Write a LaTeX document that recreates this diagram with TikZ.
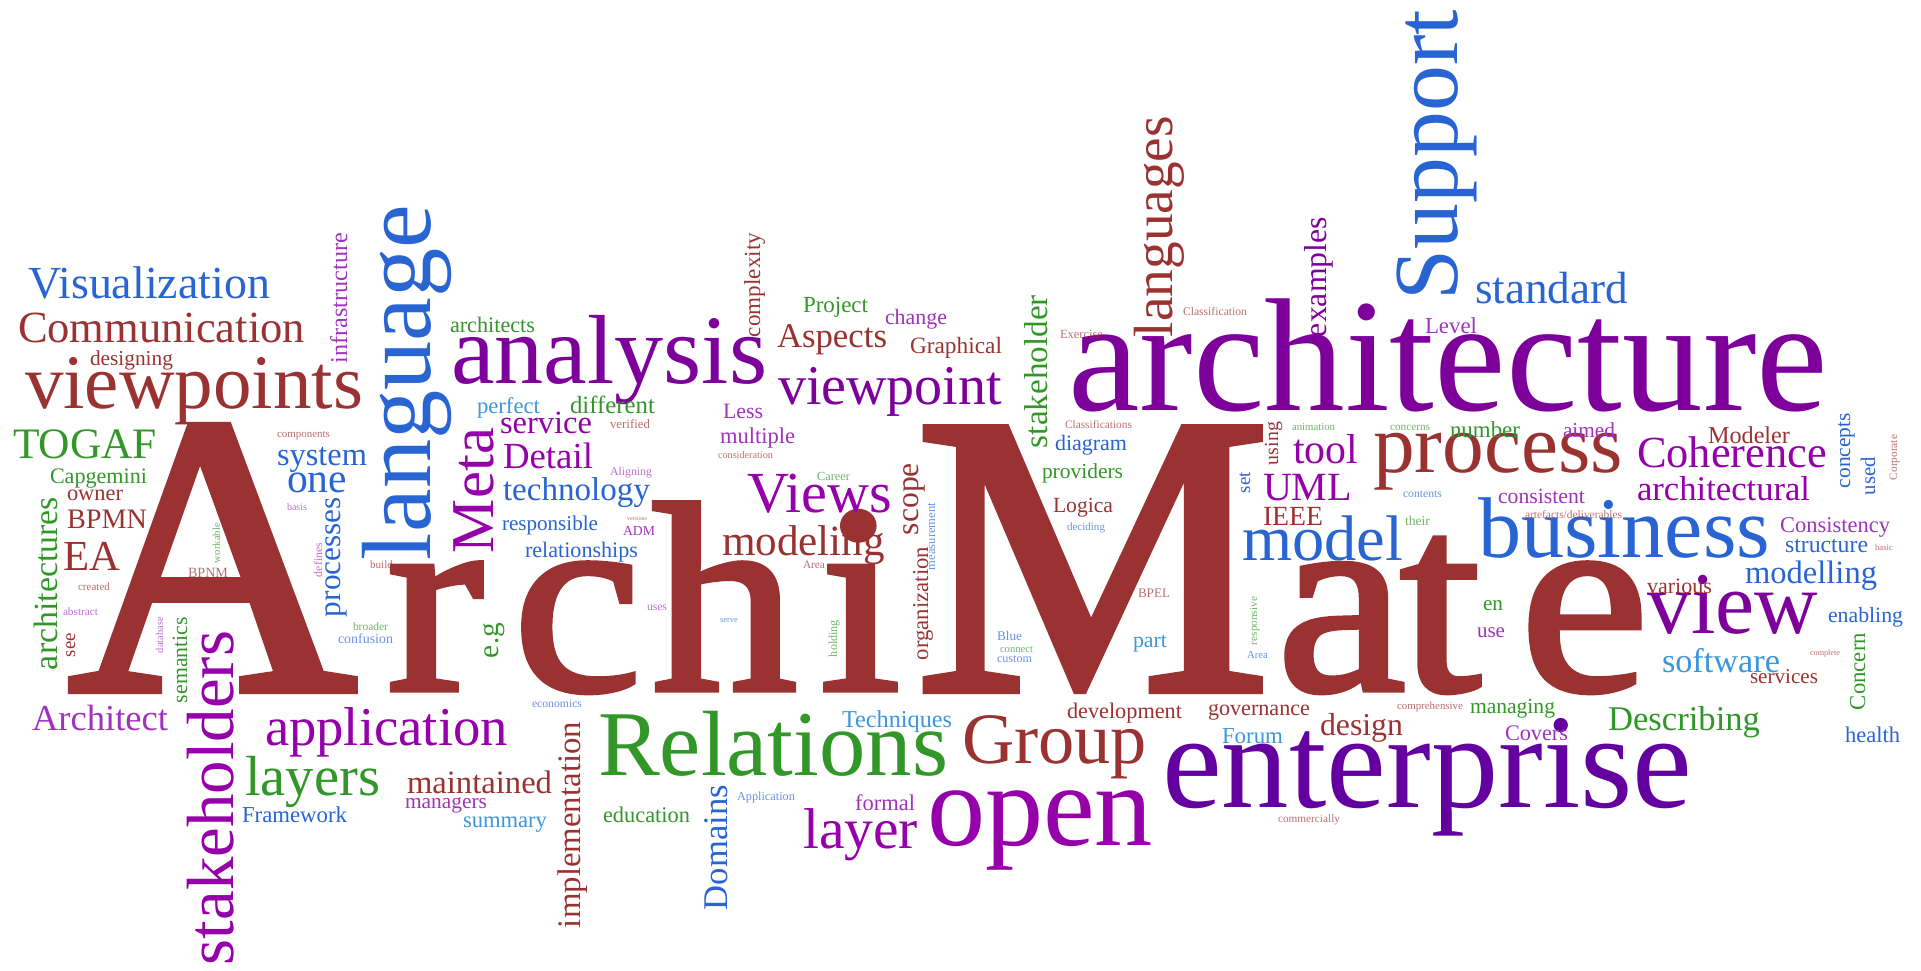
\documentclass[tikz,border=0pt]{standalone}
\usepackage{fontspec}
\setmainfont{Liberation Serif}
\newfontfamily\archfont[FakeBold=2]{Liberation Serif}
\usepackage{graphicx}

\definecolor{cwred}{RGB}{155,50,50}
\definecolor{cwpurple}{RGB}{125,0,155}
\definecolor{cwindigo}{RGB}{100,0,160}
\definecolor{cwmagenta}{RGB}{150,0,170}
\definecolor{cwviolet}{RGB}{160,50,190}
\definecolor{cwblue}{RGB}{40,100,210}
\definecolor{cwlblue}{RGB}{60,150,220}
\definecolor{cwgreen}{RGB}{50,150,40}

\newcommand{\fitw}[2]{\resizebox{#1pt}{!}{#2}}
\newcommand{\capsz}{\fontsize{400}{400}\selectfont}
\newcommand{\lowsz}{\fontsize{290}{290}\selectfont}
\newcommand{\lowch}[2]{\makebox[#1pt][l]{\scalebox{1}[0.93]{#2}}}

\begin{document}
\begin{tikzpicture}[
    x=1pt, y=-1pt,
    word/.style={inner sep=0pt, outer sep=0pt, anchor=base west, text=#1},
    up word/.style={word=#1, rotate=90},
    tiny word/.style={word=#1, opacity=0.7},
    tiny up word/.style={up word=#1, opacity=0.7}
]

\useasboundingbox (0,0) rectangle (1921,971);

% Main word
\node[word=cwred] (w-archimate) at (58,690) {\archfont\capsz\kern10pt\makebox[319pt][l]{A}\lowsz\lowch{126}{r}\lowch{139}{c}\lowch{168}{h}\lowch{95}{i}\capsz\makebox[362pt][l]{M}\lowsz\lowch{123}{a}\lowch{120}{t}\lowch{113}{e}};

% Large words
\node[word=cwpurple] (w-architecture) at (1068,410) {\fitw{760}{architecture}};
\node[word=cwindigo] (w-enterprise) at (1162,807) {\fitw{530}{enterprise}};
\node[word=cwpurple] (w-analysis) at (451,383) {\fitw{316}{analysis}};
\node[word=cwgreen] (w-relations) at (598,775) {\fitw{350}{Relations}};
\node[word=cwblue] (w-business) at (1478,557) {\fitw{292}{business}};
\node[word=cwred] (w-process) at (1373,472) {\fitw{250}{process}};
\node[word=cwred] (w-viewpoints) at (25,408) {\fitw{338}{viewpoints}};
\node[word=cwred] (w-communication) at (18,342) {\fitw{287}{Communication}};
\node[word=cwblue] (w-visualization) at (28,298) {\fitw{242}{Visualization}};
\node[word=cwpurple] (w-viewpoint) at (778,404) {\fitw{224}{viewpoint}};
\node[word=cwmagenta] (w-open) at (927,845) {\fitw{226}{open}};
\node[word=cwred] (w-group) at (962,763) {\fitw{185}{Group}};
\node[word=cwmagenta] (w-application) at (265,745) {\fitw{243}{application}};
\node[word=cwgreen] (w-layers) at (245,795) {\fitw{135}{layers}};
\node[word=cwmagenta] (w-layer) at (803,848) {\fitw{115}{layer}};
\node[word=cwpurple] (w-view) at (1647,633) {\fitw{171}{view}};
\node[word=cwblue] (w-model) at (1242,560) {\fitw{161}{model}};
\node[word=cwred] (w-modeling) at (722,555) {\fitw{163}{modeling}};
\node[word=cwmagenta] (w-views) at (747,512) {\fitw{145}{Views}};
\node[word=cwmagenta] (w-coherence) at (1637,467) {\fitw{190}{Coherence}};
\node[word=cwmagenta] (w-architectural) at (1637,500) {\fitw{173}{architectural}};
\node[word=cwblue] (w-standard) at (1475,303) {\fitw{153}{standard}};
\node[word=cwgreen] (w-describing) at (1608,730) {\fitw{152}{Describing}};
\node[word=cwgreen] (w-togaf) at (13,458) {\fitw{144}{TOGAF}};
\node[word=cwviolet] (w-architect) at (32,730) {\fitw{136}{Architect}};
\node[word=cwred] (w-maintained) at (407,793) {\fitw{145}{maintained}};
\node[word=cwblue] (w-technology) at (503,500) {\fitw{147}{technology}};
\node[word=cwblue] (w-modelling) at (1745,583) {\fitw{132}{modelling}};
\node[word=cwlblue] (w-software) at (1662,672) {\fitw{118}{software}};

% Medium words
\node[word=cwred] (w-development) at (1067,718) {\fitw{115}{development}};
\node[word=cwlblue] (w-techniques) at (842,727) {\fitw{110}{Techniques}};
\node[word=cwred] (w-aspects) at (777,347) {\fitw{110}{Aspects}};
\node[word=cwviolet] (w-consistency) at (1780,532) {\fitw{110}{Consistency}};
\node[word=cwblue] (w-relationships) at (525,557) {\fitw{113}{relationships}};
\node[word=cwblue] (w-framework) at (242,822) {\fitw{105}{Framework}};
\node[word=cwred] (w-governance) at (1208,715) {\fitw{102}{governance}};
\node[word=cwgreen] (w-capgemini) at (50,483) {\fitw{97}{Capgemini}};
\node[word=cwblue] (w-responsible) at (502,530) {\fitw{96}{responsible}};
\node[word=cwred] (w-graphical) at (910,353) {\fitw{92}{Graphical}};
\node[word=cwmagenta] (w-service) at (500,433) {\fitw{92}{service}};
\node[word=cwmagenta] (w-detail) at (503,468) {\fitw{90}{Detail}};
\node[word=cwblue] (w-system) at (277,465) {\fitw{90}{system}};
\node[word=cwmagenta] (w-uml) at (1263,500) {\fitw{89}{UML}};
\node[word=cwgreen] (w-education) at (603,822) {\fitw{87}{education}};
\node[word=cwviolet] (w-consistent) at (1498,503) {\fitw{87}{consistent}};
\node[word=cwgreen] (w-managing) at (1470,713) {\fitw{85}{managing}};
\node[word=cwgreen] (w-different) at (570,413) {\fitw{85}{different}};
\node[word=cwgreen] (w-architects) at (450,332) {\fitw{85}{architects}};
\node[word=cwlblue] (w-summary) at (463,827) {\fitw{84}{summary}};
\node[word=cwred] (w-designing) at (90,365) {\fitw{83}{designing}};
\node[word=cwred] (w-design) at (1320,735) {\fitw{83}{design}};
\node[word=cwblue] (w-structure) at (1785,552) {\fitw{83}{structure}};
\node[word=cwviolet] (w-managers) at (405,808) {\fitw{82}{managers}};
\node[word=cwred] (w-modeler) at (1708,443) {\fitw{82}{Modeler}};
\node[word=cwgreen] (w-providers) at (1042,478) {\fitw{81}{providers}};
\node[word=cwred] (w-bpmn) at (67,528) {\fitw{80}{BPMN}};
\node[word=cwviolet] (w-multiple) at (720,443) {\fitw{75}{multiple}};
\node[word=cwblue] (w-enabling) at (1828,622) {\fitw{75}{enabling}};
\node[word=cwblue] (w-diagram) at (1055,450) {\fitw{72}{diagram}};
\node[word=cwgreen] (w-number) at (1450,437) {\fitw{70}{number}};
\node[word=cwred] (w-services) at (1750,683) {\fitw{68}{services}};
\node[word=cwgreen] (w-project) at (803,312) {\fitw{65}{Project}};
\node[word=cwred] (w-various) at (1647,593) {\fitw{65}{various}};
\node[word=cwmagenta] (w-tool) at (1293,463) {\fitw{65}{tool}};
\node[word=cwlblue] (w-perfect) at (477,413) {\fitw{63}{perfect}};
\node[word=cwviolet] (w-covers) at (1505,740) {\fitw{63}{Covers}};
\node[word=cwviolet] (w-change) at (885,324) {\fitw{62}{change}};
\node[word=cwlblue] (w-forum) at (1222,743) {\fitw{61}{Forum}};
\node[word=cwblue] (w-one) at (287,492) {\fitw{60}{one}};
\node[word=cwviolet] (w-formal) at (855,810) {\fitw{60}{formal}};
\node[word=cwred] (w-ieee) at (1263,525) {\fitw{60}{IEEE}};
\node[word=cwred] (w-logica) at (1053,512) {\fitw{60}{Logica}};
\node[word=cwred] (w-ea) at (63,570) {\fitw{57}{EA}};
\node[word=cwred] (w-owner) at (67,500) {\fitw{56}{owner}};
\node[word=cwblue] (w-health) at (1845,742) {\fitw{55}{health}};
\node[word=cwviolet] (w-level) at (1425,333) {\fitw{52}{Level}};
\node[word=cwviolet] (w-aimed) at (1563,437) {\fitw{52}{aimed}};
\node[word=cwviolet] (w-less) at (723,418) {\fitw{40}{Less}};
\node[word=cwviolet] (w-adm) at (623,535) {\fitw{32}{ADM}};
\node[word=cwlblue] (w-part) at (1133,647) {\fitw{34}{part}};
\node[word=cwgreen] (w-en) at (1483,610) {\fitw{20}{en}};
\node[word=cwviolet] (w-use) at (1477,637) {\fitw{28}{use}};

% Tiny words
\node[tiny word=cwred] (t-verified) at (610,428) {\fitw{40}{verified}};
\node[tiny word=cwred] (t-classification) at (1183,315) {\fitw{64}{Classification}};
\node[tiny word=cwred] (t-exercise) at (1060,338) {\fitw{43}{Exercise}};
\node[tiny word=cwred] (t-classifications) at (1065,428) {\fitw{67}{Classifications}};
\node[tiny word=cwgreen] (t-animation) at (1292,430) {\fitw{43}{animation}};
\node[tiny word=cwgreen] (t-concerns) at (1390,430) {\fitw{40}{concerns}};
\node[tiny word=cwblue] (t-contents) at (1403,497) {\fitw{39}{contents}};
\node[tiny word=cwgreen] (t-their) at (1405,525) {\fitw{25}{their}};
\node[tiny word=cwred] (t-artefacts) at (1525,518) {\fitw{97}{artefacts/deliverables}};
\node[tiny word=cwred] (t-basic) at (1875,550) {\fitw{18}{basic}};
\node[tiny word=cwred] (t-complete) at (1810,655) {\fitw{30}{complete}};
\node[tiny word=cwred] (t-comprehensive) at (1397,709) {\fitw{66}{comprehensive}};
\node[tiny word=cwred] (t-commercially) at (1278,822) {\fitw{62}{commercially}};
\node[tiny word=cwblue] (t-economics) at (532,707) {\fitw{50}{economics}};
\node[tiny word=cwblue] (t-application) at (737,800) {\fitw{58}{Application}};
\node[tiny word=cwred] (t-components) at (277,437) {\fitw{53}{components}};
\node[tiny word=cwviolet] (t-basis) at (287,510) {\fitw{20}{basis}};
\node[tiny word=cwred] (t-build) at (370,568) {\fitw{23}{build}};
\node[tiny word=cwgreen] (t-broader) at (353,630) {\fitw{35}{broader}};
\node[tiny word=cwblue] (t-confusion) at (338,643) {\fitw{55}{confusion}};
\node[tiny word=cwred] (t-created) at (78,590) {\fitw{32}{created}};
\node[tiny word=cwviolet] (t-abstract) at (63,615) {\fitw{35}{abstract}};
\node[tiny word=cwred] (t-bpnm) at (188,577) {\fitw{40}{BPNM}};
\node[tiny word=cwviolet] (t-aligning) at (610,475) {\fitw{42}{Aligning}};
\node[tiny word=cwred] (t-versions) at (627,520) {\fitw{20}{versions}};
\node[tiny word=cwred] (t-consideration) at (718,458) {\fitw{55}{consideration}};
\node[tiny word=cwgreen] (t-career) at (817,480) {\fitw{33}{Career}};
\node[tiny word=cwred] (t-area) at (803,568) {\fitw{22}{Area}};
\node[tiny word=cwviolet] (t-uses) at (647,610) {\fitw{20}{uses}};
\node[tiny word=cwblue] (t-serve) at (720,622) {\fitw{18}{serve}};
\node[tiny word=cwblue] (t-deciding) at (1067,530) {\fitw{38}{deciding}};
\node[tiny word=cwred] (t-bpel) at (1138,597) {\fitw{32}{BPEL}};
\node[tiny word=cwblue] (t-areas) at (1247,658) {\fitw{21}{Area}};
\node[tiny word=cwblue] (t-blue) at (997,640) {\fitw{25}{Blue}};
\node[tiny word=cwgreen] (t-connect) at (1000,652) {\fitw{33}{connect}};
\node[tiny word=cwblue] (t-custom) at (997,662) {\fitw{35}{custom}};

% Vertical words
\node[up word=cwblue] (v-language) at (430,560) {\fitw{355}{language}};
\node[up word=cwblue] (v-support) at (1457,300) {\fitw{290}{Support}};
\node[up word=cwmagenta] (v-stakeholders) at (233,965) {\fitw{334}{stakeholders}};
\node[up word=cwred] (v-languages) at (1172,337) {\fitw{221}{languages}};
\node[up word=cwred] (v-implementation) at (580,928) {\fitw{206}{implementation}};
\node[up word=cwgreen] (v-architectures) at (57,670) {\fitw{173}{architectures}};
\node[up word=cwgreen] (v-stakeholder) at (1047,448) {\fitw{153}{stakeholder}};
\node[up word=cwmagenta] (v-meta) at (493,553) {\fitw{125}{Meta}};
\node[up word=cwviolet] (v-infrastructure) at (347,363) {\fitw{130}{infrastructure}};
\node[up word=cwblue] (v-domains) at (727,910) {\fitw{125}{Domains}};
\node[up word=cwpurple] (v-examples) at (1326,337) {\fitw{120}{examples}};
\node[up word=cwblue] (v-processes) at (340,617) {\fitw{120}{processes}};
\node[up word=cwred] (v-organization) at (928,660) {\fitw{113}{organization}};
\node[up word=cwred] (v-complexity) at (760,337) {\fitw{104}{complexity}};
\node[up word=cwgreen] (v-semantics) at (187,703) {\fitw{86}{semantics}};
\node[up word=cwgreen] (v-concern) at (1865,710) {\fitw{77}{Concern}};
\node[up word=cwblue] (v-concepts) at (1850,488) {\fitw{75}{concepts}};
\node[up word=cwred] (v-scope) at (918,535) {\fitw{72}{scope}};
\node[up word=cwgreen] (v-eg) at (498,658) {\fitw{35}{e.g}};
\node[up word=cwblue] (v-used) at (1875,495) {\fitw{38}{used}};
\node[up word=cwblue] (v-set) at (1250,493) {\fitw{21}{set}};
\node[up word=cwred] (v-using) at (1278,465) {\fitw{43}{using}};
\node[up word=cwred] (v-see) at (75,657) {\fitw{24}{see}};
\node[tiny up word=cwred] (v-corporate) at (1897,480) {\fitw{45}{Corporate}};
\node[tiny up word=cwviolet] (v-database) at (163,653) {\fitw{36}{database}};
\node[tiny up word=cwgreen] (v-workable) at (220,563) {\fitw{40}{workable}};
\node[tiny up word=cwviolet] (v-defines) at (322,577) {\fitw{34}{defines}};
\node[tiny up word=cwblue] (v-measurement) at (935,570) {\fitw{67}{measurement}};
\node[tiny up word=cwgreen] (v-holding) at (837,657) {\fitw{37}{holding}};
\node[tiny up word=cwgreen] (v-responsive) at (1257,645) {\fitw{48}{responsive}};

\end{tikzpicture}
\end{document}
